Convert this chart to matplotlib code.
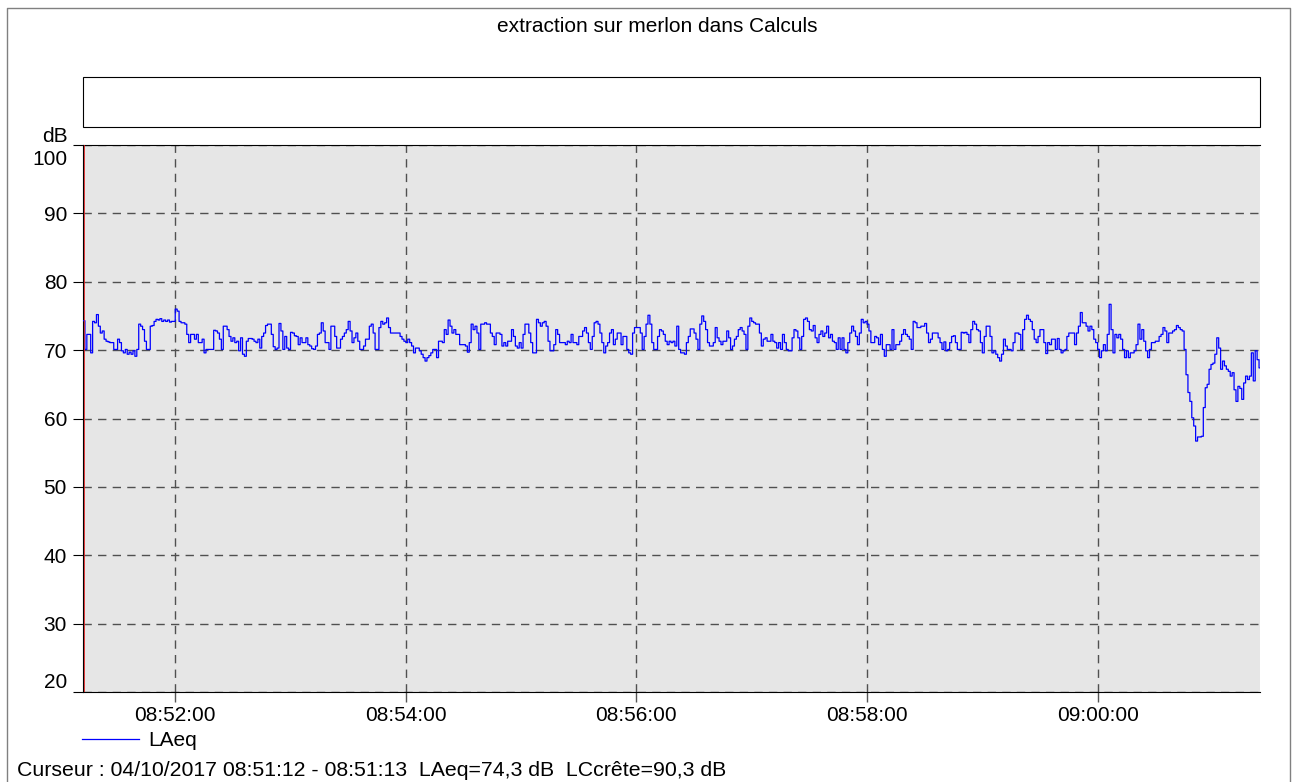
import datetime as dt

import matplotlib
matplotlib.use("Agg")
import matplotlib.pyplot as plt
import matplotlib.dates as mdates
import matplotlib.transforms as mtransforms
from matplotlib.lines import Line2D
from matplotlib.patches import Rectangle

plt.rcParams["font.family"] = ["Liberation Sans", "DejaVu Sans"]

title = "extraction sur merlon dans Calculs"
cursor_text = "Curseur : 04/10/2017 08:51:12 - 08:51:13  LAeq=74,3 dB  LCcrête=90,3 dB"
series_name = "LAeq"

start = dt.datetime(2017, 10, 4, 8, 51, 12)
end = dt.datetime(2017, 10, 4, 9, 1, 24, 500000)

# LAeq 1 s, en dB, une liste par minute (depuis 08:51:12)
laeq_a = [74.3, 70.1, 72.3, 72.3, 69.6, 74.2, 74.0, 75.2, 73.5, 72.5,
          72.8, 71.6, 71.3, 71.2, 71.1, 71.1, 70.1, 70.1, 71.6, 71.1,
          69.9, 69.6, 70.1, 69.4, 69.7, 69.4, 69.9, 69.1, 70.1, 73.8,
          73.5, 73.0, 71.3, 70.1, 70.1, 73.5, 73.6, 74.2, 74.5, 74.4,
          74.6, 74.2, 74.4, 74.2, 74.4, 74.1, 74.2, 74.2, 76.0, 75.7,
          74.2, 74.0, 74.0, 73.8, 72.3, 71.1, 72.3, 72.3, 71.6, 72.3]
laeq_b = [71.1, 71.1, 71.6, 69.6, 70.1, 70.1, 70.1, 70.1, 72.9, 72.8,
          72.5, 71.6, 70.1, 73.5, 73.5, 73.0, 72.0, 71.3, 71.8, 71.1,
          71.3, 69.9, 71.8, 69.4, 69.1, 71.3, 71.7, 71.7, 71.6, 71.3,
          71.1, 71.6, 70.3, 72.0, 72.5, 73.6, 73.8, 73.8, 72.3, 70.5,
          70.1, 70.3, 73.9, 72.8, 70.1, 72.0, 70.3, 70.1, 72.6, 72.5,
          72.1, 72.0, 70.8, 71.8, 71.1, 71.1, 71.8, 70.8, 70.6, 70.2]
laeq_c = [70.1, 70.6, 72.3, 72.5, 74.0, 72.8, 71.1, 71.1, 70.1, 73.5,
          73.5, 72.0, 70.3, 70.3, 71.6, 72.0, 72.5, 73.0, 74.2, 72.8,
          71.1, 71.8, 72.5, 71.3, 70.1, 70.1, 70.6, 71.6, 71.6, 73.5,
          73.8, 72.5, 70.1, 70.1, 73.3, 74.2, 73.8, 74.0, 74.7, 73.3,
          72.5, 72.5, 72.5, 72.5, 72.5, 72.0, 71.6, 71.3, 71.1, 71.6,
          71.1, 70.6, 69.6, 70.3, 70.3, 69.9, 69.4, 68.9, 68.4, 68.9]
laeq_d = [69.2, 69.6, 70.1, 70.1, 68.9, 71.3, 71.3, 71.1, 73.0, 72.3,
          74.4, 73.5, 72.5, 73.0, 72.3, 72.3, 70.8, 70.8, 70.8, 70.6,
          69.7, 71.1, 73.8, 73.0, 73.5, 72.5, 70.1, 73.8, 73.8, 74.0,
          73.8, 73.8, 72.5, 72.0, 70.8, 72.5, 72.5, 72.3, 70.6, 71.1,
          70.6, 71.3, 71.3, 73.0, 72.0, 70.6, 70.3, 71.1, 70.3, 72.3,
          73.8, 73.8, 72.5, 71.1, 69.6, 69.6, 74.5, 74.0, 73.5, 74.0]
laeq_e = [74.2, 73.5, 71.3, 69.9, 69.9, 70.8, 73.0, 72.3, 71.1, 71.1,
          71.1, 70.8, 71.3, 71.1, 72.3, 71.1, 71.1, 70.8, 72.0, 72.0,
          72.8, 73.3, 72.5, 71.1, 70.1, 72.0, 74.0, 74.2, 73.8, 72.5,
          71.1, 69.6, 70.6, 71.1, 72.5, 73.0, 70.8, 71.6, 72.5, 72.5,
          70.8, 72.0, 72.0, 70.1, 69.6, 69.4, 72.5, 73.3, 73.3, 73.3,
          72.5, 70.1, 72.0, 73.8, 75.1, 73.8, 71.1, 70.1, 70.1, 72.0]
laeq_f = [73.0, 72.8, 72.3, 71.3, 70.8, 71.3, 71.1, 71.3, 70.6, 73.5,
          70.1, 69.6, 69.6, 69.4, 71.1, 72.0, 73.1, 73.1, 72.5, 71.6,
          70.1, 73.8, 75.0, 74.2, 73.0, 71.1, 70.6, 70.6, 71.1, 73.3,
          71.8, 71.3, 70.8, 71.3, 71.3, 72.8, 71.8, 70.1, 70.6, 71.6,
          72.0, 73.0, 73.3, 72.8, 72.3, 70.1, 73.5, 74.7, 74.2, 74.0,
          73.8, 73.8, 72.5, 70.6, 71.6, 71.8, 71.3, 71.3, 72.3, 71.3]
laeq_g = [71.1, 70.3, 71.1, 70.1, 72.3, 71.1, 70.1, 69.9, 69.9, 71.8,
          73.0, 72.8, 71.8, 70.1, 72.0, 74.5, 74.7, 74.2, 73.0, 72.8,
          73.6, 71.8, 71.1, 72.3, 72.8, 72.0, 72.5, 73.5, 71.8, 72.3,
          71.3, 71.1, 70.1, 71.8, 70.1, 71.8, 70.1, 69.6, 71.1, 72.5,
          73.5, 72.8, 72.0, 70.8, 72.5, 74.5, 74.0, 74.2, 73.8, 72.8,
          71.1, 71.1, 72.0, 71.8, 70.8, 72.3, 70.1, 69.1, 70.8, 70.8]
laeq_h = [70.1, 73.0, 70.1, 70.8, 70.8, 71.3, 72.3, 73.0, 72.3, 72.0,
          71.6, 70.1, 74.2, 74.0, 73.3, 73.3, 73.5, 73.5, 73.9, 72.5,
          71.1, 71.6, 72.5, 72.5, 72.5, 71.8, 71.1, 70.1, 71.2, 69.9,
          70.1, 71.1, 72.0, 72.1, 71.1, 70.1, 70.1, 72.6, 72.5, 72.6,
          72.3, 71.1, 73.0, 74.2, 73.8, 73.0, 72.8, 71.1, 69.6, 72.0,
          73.5, 73.5, 72.0, 69.6, 69.9, 69.4, 68.9, 68.4, 69.4, 71.6]
laeq_i = [70.6, 70.1, 70.1, 69.9, 71.1, 72.5, 72.5, 72.3, 70.1, 73.0,
          74.5, 75.1, 74.5, 74.2, 73.0, 71.6, 71.1, 72.0, 73.0, 73.0,
          71.1, 69.5, 71.1, 70.8, 71.6, 71.6, 70.1, 71.7, 70.1, 69.6,
          69.9, 70.1, 72.0, 72.5, 72.5, 72.5, 70.8, 72.5, 73.5, 75.5,
          74.0, 74.0, 73.5, 72.8, 73.5, 73.0, 71.6, 71.1, 70.1, 68.9,
          69.9, 70.8, 69.9, 72.3, 76.7, 73.0, 69.6, 72.3, 71.8, 72.3]
laeq_j = [71.6, 70.1, 68.9, 69.9, 68.9, 69.6, 69.6, 69.9, 70.8, 73.8,
          71.6, 73.0, 71.3, 69.9, 68.9, 70.1, 71.1, 71.1, 71.3, 71.3,
          72.0, 72.3, 73.3, 72.8, 71.1, 72.5, 72.5, 72.8, 73.0, 73.6,
          73.3, 73.0, 72.8, 70.1, 66.4, 63.8, 62.5, 60.1, 58.9, 56.7,
          57.3, 57.3, 57.4, 61.6, 64.5, 65.0, 67.2, 67.9, 68.1, 69.4,
          71.8, 70.3, 67.2, 68.4, 67.7, 67.2, 66.9, 66.2, 66.7, 64.2]
laeq_k = [62.5, 64.7, 64.4, 62.8, 65.2, 66.2, 65.7, 66.2, 69.6, 65.5,
          69.9, 68.6, 67.4, 66.2]

y_ticks = [20, 30, 40, 50, 60, 70, 80, 90, 100]
x_ticks = [dt.datetime(2017, 10, 4, 8, 52), dt.datetime(2017, 10, 4, 8, 54),
           dt.datetime(2017, 10, 4, 8, 56), dt.datetime(2017, 10, 4, 8, 58),
           dt.datetime(2017, 10, 4, 9, 0)]

laeq = (laeq_a + laeq_b + laeq_c + laeq_d + laeq_e + laeq_f
        + laeq_g + laeq_h + laeq_i + laeq_j + laeq_k)
times = [start + dt.timedelta(seconds=i) for i in range(len(laeq))]

W, H = 1297, 782
fs = 15

fig = plt.figure(figsize=(W / 100, H / 100), dpi=100)
ax = fig.add_axes([83 / W, 1 - 692 / H, 1177 / W, 547 / H])
ax.set_facecolor("#e6e6e6")

ax.step(times, laeq, where="post", color="#0000ff", lw=0.9, label=series_name, zorder=3)

# curseur rouge
trans = ax.get_xaxis_transform() + mtransforms.ScaledTranslation(1 / 100, 0, fig.dpi_scale_trans)
ax.add_line(Line2D([mdates.date2num(start)] * 2, [0, 1], transform=trans,
                   color="#e02020", lw=0.6, zorder=4))

ax.set_xlim(start, end)
ax.set_ylim(20, 100)
ax.set_yticks(y_ticks)
ax.set_yticklabels([str(v) for v in y_ticks])
ax.set_xticks(x_ticks)
ax.xaxis.set_major_formatter(mdates.DateFormatter("%H:%M:%S"))

ax.set_axisbelow(True)
ax.grid(True, color="#505050", linestyle=(0, (6, 4.5)), linewidth=1.0)

ax.tick_params(axis="y", length=7.2, width=0.8, pad=4.3, labelsize=fs, color="black")
ax.tick_params(axis="x", length=7.2, width=1.0, pad=2.9, labelsize=fs, color="#555555")

# étiquettes extrêmes ramenées dans la zone du graphe
yt = ax.yaxis.get_major_ticks()
yt[0].label1.set_verticalalignment("bottom")
yt[-1].label1.set_verticalalignment("top")
yt[-1].label1.set_transform(yt[-1].label1.get_transform()
                            + mtransforms.ScaledTranslation(0, -5 / 100, fig.dpi_scale_trans))

for side in ["left", "bottom", "top"]:
    ax.spines[side].set_color("black")
    ax.spines[side].set_linewidth(0.8)
ax.spines["right"].set_visible(False)

# cadre + boite blanche
fig.add_artist(Line2D([7 / W, 7 / W, 1290 / W, 1290 / W], [0, 1 - 8 / H, 1 - 8 / H, 0],
                      transform=fig.transFigure, color="#808080", lw=1.0))
fig.add_artist(Rectangle((83 / W, 1 - 127 / H), 1177 / W, 50 / H, transform=fig.transFigure,
                         facecolor="white", edgecolor="black", lw=0.8))

fig.text(657 / W, 1 - 26 / H, title, ha="center", va="center", fontsize=fs)
fig.text(68 / W, 1 - 142 / H, "dB", ha="right", va="baseline", fontsize=fs)

handles, labels = ax.get_legend_handles_labels()
fig.legend(handles, labels, loc="center left", bbox_to_anchor=(82 / W, 1 - 741 / H),
           bbox_transform=fig.transFigure, frameon=False, borderpad=0, borderaxespad=0,
           handlelength=2.74, handletextpad=0.45, fontsize=fs)

fig.text(17 / W, 1 - 770 / H, cursor_text, ha="left", va="center", fontsize=15.3)

fig.savefig("out.png", dpi=100)
